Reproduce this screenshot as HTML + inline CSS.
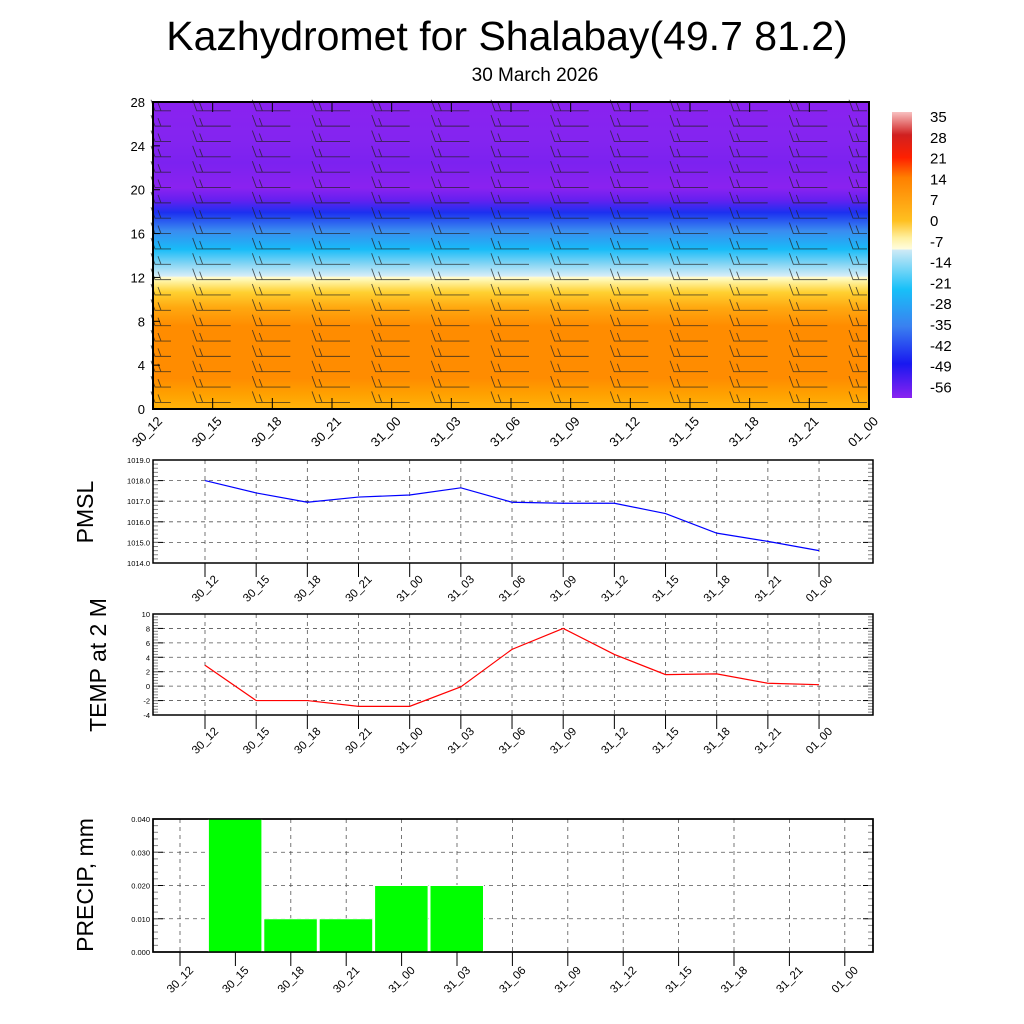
<!DOCTYPE html>
<html><head><meta charset="utf-8"><style>
body{margin:0;background:#fff;}
svg{display:block;font-family:"Liberation Sans",sans-serif;}
</style></head><body>
<svg id="s" width="1024" height="1024" viewBox="0 0 1024 1024">
<defs>
<linearGradient id="tg" x1="0" y1="1" x2="0" y2="0">
<stop offset="0" stop-color="#ffb40a"/><stop offset="0.05" stop-color="#ffa000"/>
<stop offset="0.1" stop-color="#ff8c00"/><stop offset="0.27" stop-color="#ff8c00"/>
<stop offset="0.33" stop-color="#ffa810"/><stop offset="0.38" stop-color="#ffd030"/>
<stop offset="0.42" stop-color="#fff7b0"/><stop offset="0.43" stop-color="#fffbd0"/>
<stop offset="0.432" stop-color="#d8eef8"/><stop offset="0.47" stop-color="#8ad6f4"/>
<stop offset="0.52" stop-color="#18bcf8"/><stop offset="0.58" stop-color="#3a8cf0"/>
<stop offset="0.64" stop-color="#1c30f0"/><stop offset="0.68" stop-color="#6420f0"/>
<stop offset="0.72" stop-color="#8a22f0"/><stop offset="0.8" stop-color="#7c22f0"/>
<stop offset="0.88" stop-color="#8424f0"/><stop offset="1" stop-color="#8a22f0"/>
</linearGradient>
<linearGradient id="cb" x1="0" y1="0" x2="0" y2="1">
<stop offset="0" stop-color="#f8c0c0"/><stop offset="0.08" stop-color="#d02020"/>
<stop offset="0.16" stop-color="#ff2000"/><stop offset="0.23" stop-color="#ff8000"/>
<stop offset="0.38" stop-color="#ffc020"/><stop offset="0.44" stop-color="#fff0a0"/>
<stop offset="0.48" stop-color="#fffde0"/><stop offset="0.481" stop-color="#d0eaf6"/>
<stop offset="0.62" stop-color="#18c0f8"/><stop offset="0.75" stop-color="#3a80f0"/>
<stop offset="0.88" stop-color="#1818f0"/><stop offset="1" stop-color="#8a22f0"/>
</linearGradient>
</defs>
<text x="507" y="50" font-size="41" text-anchor="middle">Kazhydromet for Shalabay(49.7 81.2)</text>
<text x="535" y="81" font-size="19" text-anchor="middle">30 March 2026</text>
<g id="top">
<rect x="153" y="102" width="716" height="307" fill="url(#tg)"/>
</g>
<g id="barbs"></g>
<rect x="153" y="102" width="716" height="307" fill="none" stroke="#000" stroke-width="2"/>
<g id="topax"></g>
<rect x="892" y="112" width="20" height="286" fill="url(#cb)"/>
<g id="cbl"></g>
<g id="p1"></g>
<g id="p2"></g>
<g id="p3"></g>
<text transform="translate(93,512) rotate(-90)" font-size="23" text-anchor="middle">PMSL</text>
<text transform="translate(106,665) rotate(-90)" font-size="23" text-anchor="middle">TEMP at 2 M</text>
<text transform="translate(93,885) rotate(-90)" font-size="23" text-anchor="middle">PRECIP, mm</text>
</svg>
<script>
const times=["30_12","30_15","30_18","30_21","31_00","31_03","31_06","31_09","31_12","31_15","31_18","31_21","01_00"];
const pmsl=[1018.0,1017.4,1016.95,1017.2,1017.3,1017.65,1016.95,1016.9,1016.9,1016.4,1015.45,1015.05,1014.6];
const temp=[2.9,-2,-2,-2.8,-2.8,-0.1,5.1,8,4.4,1.6,1.7,0.4,0.2];
const precip=[0,0.04,0.01,0.01,0.02,0.02,0,0,0,0,0,0,0];
const heightTicks=[0,4,8,12,16,20,24,28];
const cbLabels=["35","28","21","14","7","0","-7","-14","-21","-28","-35","-42","-49","-56"];
const pmslTicks=[1014,1015,1016,1017,1018,1019];
const tempTicks=[-4,-2,0,2,4,6,8,10];
const precipTicks=[0,0.01,0.02,0.03,0.04];
const NS="http://www.w3.org/2000/svg";
function mk(p,t,a){const e=document.createElementNS(NS,t);for(const k in a)e.setAttribute(k,a[k]);p.appendChild(e);return e;}
function rotLabel(g,x,y,txt,fs){const t=mk(g,"text",{transform:`translate(${x},${y}) rotate(-45)`,"font-size":fs,"text-anchor":"end"});t.textContent=txt;

return t;}
const tg=document.getElementById("topax");
const tx=i=>153+i*716/12, hy=h=>409-h*307/28;
heightTicks.forEach(h=>{const t=mk(tg,"text",{x:145,y:hy(h)+5,"font-size":13,"text-anchor":"end"});t.textContent=h;


mk(tg,"line",{x1:153,x2:160,y1:hy(h),y2:hy(h),stroke:"#000"});});
times.forEach((s,i)=>{mk(tg,"line",{x1:tx(i),x2:tx(i),y1:409,y2:398,stroke:"#000"});mk(tg,"line",{x1:tx(i),x2:tx(i),y1:102,y2:112,stroke:"#000"});rotLabel(tg,tx(i)+10,422,s,13);});
const bg=document.getElementById("barbs");
for(let i=0;i<13;i++){for(let h=0.6;h<28;h+=1.4){
 const cx=tx(i), y=hy(h);
 const x0=Math.max(155,cx-16), x1=Math.min(867,cx+18);
 const l=mk(bg,"path",{d:`M${x1},${y} L${x0},${y} l-4,-11 M${x0+6},${y} l-3,-8`,stroke:"#222","stroke-width":0.9,fill:"none","stroke-opacity":0.75});
 
 
}}
const cg=document.getElementById("cbl");
cbLabels.forEach((s,i)=>{const t=mk(cg,"text",{x:930,y:122+i*20.8,"font-size":15});t.textContent=s;

});
function panel(id,y0,y1,ticks,fmt,xs,labY){
 const g=document.getElementById(id);const L=153,R=873;
 const vmin=ticks[0],vmax=ticks[ticks.length-1];
 const sy=v=>y1-(v-vmin)/(vmax-vmin)*(y1-y0);
 ticks.forEach(v=>{mk(g,"line",{x1:L,x2:R,y1:sy(v),y2:sy(v),stroke:"#555","stroke-dasharray":"4,4","stroke-width":0.8});
  const t=mk(g,"text",{x:L-3,y:sy(v)+3,"font-size":7.5,"text-anchor":"end"});t.textContent=fmt(v);
  
  
  mk(g,"line",{x1:L,x2:L+10,y1:sy(v),y2:sy(v),stroke:"#000"});mk(g,"line",{x1:R-10,x2:R,y1:sy(v),y2:sy(v),stroke:"#000"});});
 const n=(ticks.length-1)*5;
 for(let k=0;k<=n;k++){const y=y1-k*(y1-y0)/n;mk(g,"line",{x1:L,x2:L+5,y1:y,y2:y,stroke:"#888"});mk(g,"line",{x1:R-5,x2:R,y1:y,y2:y,stroke:"#888"});}
 xs.forEach((x,i)=>{mk(g,"line",{x1:x,x2:x,y1:y0,y2:y1,stroke:"#555","stroke-dasharray":"4,4","stroke-width":0.8});
  mk(g,"line",{x1:x,x2:x,y1:y1,y2:y1+14,stroke:"#000"});rotLabel(g,x+14,labY,times[i],11.5);});
 const f=mk(g,"rect",{x:L,y:y0,width:R-L,height:y1-y0,fill:"none",stroke:"#000","stroke-width":1.5});
 
 
 return {g,sy};
}
const lx=i=>205+i*51.17;
const xs1=times.map((s,i)=>lx(i));
let P=panel("p1",460,563,pmslTicks,v=>v.toFixed(1),xs1,580);
let pl=mk(P.g,"polyline",{points:pmsl.map((v,i)=>lx(i)+","+P.sy(v)).join(" "),fill:"none",stroke:"#0000ff","stroke-width":1.2});


P=panel("p2",614,715,tempTicks,v=>String(v),xs1,732);
pl=mk(P.g,"polyline",{points:temp.map((v,i)=>lx(i)+","+P.sy(v)).join(" "),fill:"none",stroke:"#ff0000","stroke-width":1.2});


const px=i=>180+i*55.4;
const P3=panel("p3",819,952,precipTicks,v=>v.toFixed(3),times.map((s,i)=>px(i)),971);
precip.forEach((v,i)=>{if(v<=0)return;const y=P3.sy(v);
 const b=mk(P3.g,"rect",{x:px(i)-27,y:y,width:53.5,height:952-y,fill:"#00ff00",stroke:"#fff","stroke-width":1});
 
 });
mk(P3.g,"rect",{x:153,y:819,width:720,height:133,fill:"none",stroke:"#000","stroke-width":1.5});
</script>
</body></html>
